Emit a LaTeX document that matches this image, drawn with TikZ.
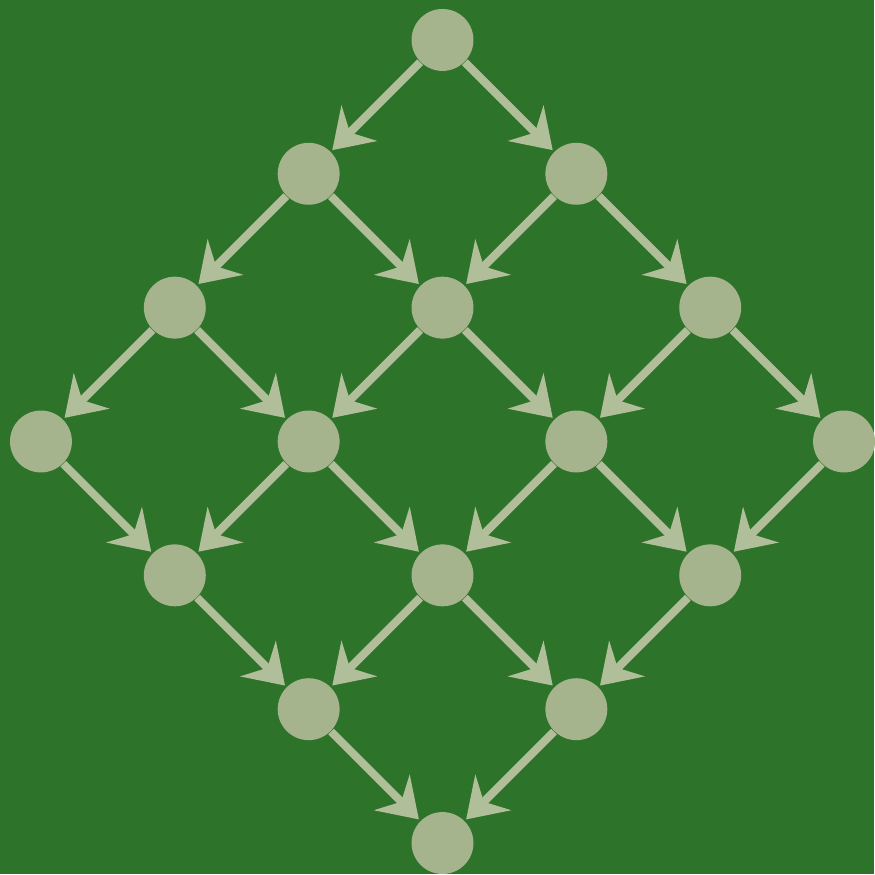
\documentclass[tikz,border=0pt]{standalone}
\usepackage{tikz}
\usetikzlibrary{arrows.meta}
\definecolor{Field}{HTML}{2D7329}
\definecolor{Sage}{HTML}{A5B48C}
\definecolor{SageLine}{HTML}{B0BE9A}
\begin{document}
\begin{tikzpicture}[
    vertex/.style={circle, fill=Sage, draw=none, minimum size=0.62cm, inner sep=0pt},
    link/.style={draw=SageLine, line width=2.3pt, shorten >=0.5pt,
                 -{Stealth[length=3.8mm, width=5mm, inset=1.3mm]}}]
    \fill[Field] (0,0) rectangle (8.75,8.75);
    % lattice nodes: i steps down-left, j steps down-right
    \foreach \i in {0,...,3}{
        \foreach \j in {0,...,3}{
            \node[vertex] (n-\i-\j) at ({4.43-1.34*\i+1.34*\j},{8.35-1.34*(\i+\j)}) {};
        }
    }
    \foreach \i in {0,...,3}{
        \foreach \j in {0,...,3}{
            \pgfmathtruncatemacro{\ni}{\i+1}
            \pgfmathtruncatemacro{\nj}{\j+1}
            \ifnum\i<3 \draw[link] (n-\i-\j) -- (n-\ni-\j); \fi
            \ifnum\j<3 \draw[link] (n-\i-\j) -- (n-\i-\nj); \fi
        }
    }
\end{tikzpicture}
\end{document}
